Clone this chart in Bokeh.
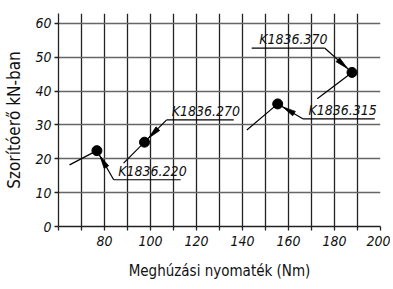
import math
from bokeh.plotting import figure
from bokeh.models import FixedTicker, ColumnDataSource
from bokeh.core.properties import value
from bokeh.embed import file_html
from bokeh.resources import INLINE

FONT = "'DejaVu Sans Condensed', Roboto, sans-serif"

# data
labels = ["K1836.220", "K1836.270", "K1836.315", "K1836.370"]
torque = [76.7, 97.4, 155.3, 187.6]          # Nm
force = [22.4, 24.9, 36.2, 45.5]             # kN
trend_start_torque = [64.8, 88.3, 141.9, 172.5]
trend_start_force = [18.2, 18.7, 28.5, 37.7]

# annotation layout (leader bend / underline)
lead_x = [84.0, 107.0, 166.2, 175.7]
lead_y = [13.8, 31.5, 31.8, 52.7]
under_x0 = [84.0, 107.0, 166.2, 144.0]
under_x1 = [113.1, 136.2, 197.5, 175.7]
text_x = [86.0, 109.2, 168.7, 147.3]

x_ticks = list(range(60, 201, 10))
x_labelled = [80, 100, 120, 140, 160, 180, 200]
y_ticks = [0, 10, 20, 30, 40, 50, 60]

X0, X1, Y0, Y1 = 60, 200, 0, 62.9
W, H = 390, 287
BL, BT, BR, BB = 58, 13, 10, 61

p = figure(width=W, height=H, x_range=(X0, X1), y_range=(Y0, Y1),
           output_backend="svg", toolbar_location=None,
           min_border_left=BL, min_border_top=BT, min_border_right=BR, min_border_bottom=BB)
p.outline_line_color = None
p.background_fill_color = "white"

# axes
p.xaxis.ticker = FixedTicker(ticks=x_ticks)
p.xaxis.major_label_overrides = {t: ("" if t not in x_labelled else str(t)) for t in x_ticks}
p.yaxis.ticker = FixedTicker(ticks=y_ticks)
for ax in (p.xaxis[0], p.yaxis[0]):
    ax.axis_line_color = "#222222"
    ax.axis_line_width = 1.3
    ax.major_tick_line_color = "#222222"
    ax.major_tick_line_width = 1.3
    ax.major_tick_out = 4
    ax.major_tick_in = 0
    ax.minor_tick_line_color = None
    ax.major_label_text_font = FONT
    ax.major_label_text_font_style = "italic"
    ax.major_label_text_font_size = "14px"
    ax.major_label_text_color = "#111111"
    ax.axis_label_text_font = FONT
    ax.axis_label_text_font_style = "normal"
    ax.axis_label_text_color = "#111111"
p.xaxis.axis_label_text_font_size = "15px"
p.yaxis.axis_label_text_font_size = "17px"
p.xaxis.major_label_standoff = 5
p.yaxis.major_label_standoff = 3
p.xaxis.axis_label = "Meghúzási nyomaték (Nm)"
p.yaxis.axis_label = "Szorítóerő kN-ban"
p.xaxis.axis_label_standoff = 13
p.yaxis.axis_label_standoff = 8

# grids
p.xgrid.ticker = FixedTicker(ticks=x_ticks)
p.ygrid.ticker = FixedTicker(ticks=y_ticks)
p.xgrid.grid_line_color = "#222222"
p.xgrid.grid_line_width = 1.3
p.ygrid.grid_line_color = "#666666"
p.ygrid.grid_line_width = 1.5

# trend segments and points
p.segment(x0=trend_start_torque, y0=trend_start_force, x1=torque, y1=force,
          line_color="black", line_width=1.2)
p.scatter(torque, force, size=10, color="black")

# leaders and underlines
p.segment(x0=lead_x, y0=lead_y, x1=torque, y1=force, line_color="black", line_width=1.2)
p.segment(x0=under_x0, y0=lead_y, x1=under_x1, y1=lead_y, line_color="black", line_width=1.2)

# narrow arrowheads pointing at each point (built in screen pixels)
fw = W - BL - BR
fh = H - BT - BB
kx = fw / (X1 - X0)
ky = fh / (Y1 - Y0)
hx, hy = [], []
for tx, ty, lx, ly in zip(torque, force, lead_x, lead_y):
    dx = (lx - tx) * kx
    dy = (ly - ty) * ky
    L = math.hypot(dx, dy)
    ux, uy = dx / L, dy / L
    nx, ny = -uy, ux
    tip = (6 * ux, 6 * uy)
    base = (19 * ux, 19 * uy)
    pts = [tip, (base[0] + 2.6 * nx, base[1] + 2.6 * ny), (base[0] - 2.6 * nx, base[1] - 2.6 * ny)]
    hx.append([tx + a / kx for a, b in pts])
    hy.append([ty + b / ky for a, b in pts])
p.patches(hx, hy, fill_color="black", line_color="black", line_width=0.8)

src = ColumnDataSource(dict(x=text_x, y=lead_y, t=labels))
p.text(x="x", y="y", text="t", source=src, text_font=value(FONT), text_font_style="italic",
       text_font_size="14px", text_color="#111111", text_baseline="bottom",
       y_offset=-1)

open("out.html", "w").write(file_html(p, INLINE))
